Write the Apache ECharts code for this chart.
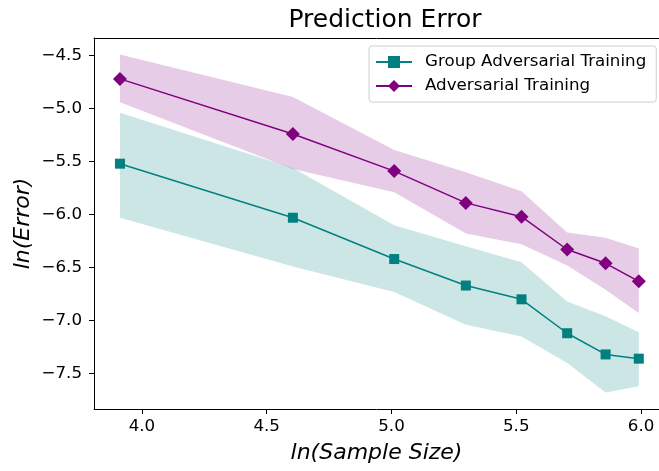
<!DOCTYPE html>
<html>
<head>
<meta charset="utf-8">
<script src="https://cdn.jsdelivr.net/npm/echarts@6/dist/echarts.min.js"></script>
<style>
html,body{margin:0;padding:0;background:#fff;}
#chart{width:659px;height:471px;}
</style>
</head>
<body>
<div id="chart"></div>
<script>
// ln(sample size) positions
var xVals = [3.912, 4.605, 5.011, 5.298, 5.521, 5.704, 5.858, 5.991];
// Group Adversarial Training
var gatMean  = [-5.52, -6.03, -6.42, -6.67, -6.80, -7.12, -7.32, -7.36];
var gatUpper = [-5.04, -5.56, -6.10, -6.30, -6.45, -6.82, -6.96, -7.11];
var gatLower = [-6.03, -6.49, -6.73, -7.04, -7.15, -7.40, -7.68, -7.62];
// Adversarial Training
var atMean  = [-4.72, -5.24, -5.59, -5.89, -6.02, -6.33, -6.46, -6.63];
var atUpper = [-4.49, -4.89, -5.39, -5.60, -5.78, -6.17, -6.22, -6.32];
var atLower = [-4.94, -5.57, -5.79, -6.18, -6.28, -6.48, -6.71, -6.93];
// tick labels
var xTicks = [4.0, 4.5, 5.0, 5.5, 6.0];
var yTicks = [-7.5, -7.0, -6.5, -6.0, -5.5, -5.0, -4.5];

var FONT = 'DejaVu Sans';
var fmt = function (v) { return (v < 0 ? '\u2212' : '') + Math.abs(v).toFixed(1); };

function pairs(xs, ys) { return xs.map(function (x, i) { return [x, ys[i]]; }); }

function bandSeries(upper, lower, color) {
  return {
    type: 'custom',
    silent: true,
    z: 1,
    data: [0],
    renderItem: function (params, api) {
      var pts = [];
      for (var i = 0; i < xVals.length; i++) pts.push(api.coord([xVals[i], upper[i]]));
      for (var j = xVals.length - 1; j >= 0; j--) pts.push(api.coord([xVals[j], lower[j]]));
      return { type: 'polygon', shape: { points: pts }, style: { fill: color } };
    }
  };
}

var XMIN = 3.808, XMAX = 6.072;

var chart = echarts.init(document.getElementById('chart'), null, { renderer: 'canvas' });
chart.setOption({
  animation: false,
  backgroundColor: '#fff',
  title: {
    text: 'Prediction Error',
    left: 380, top: 3, textAlign: 'center',
    textStyle: { fontFamily: FONT, fontSize: 25, fontWeight: 'normal', color: '#000' }
  },
  grid: {
    left: 94, top: 38, right: 0, bottom: 62, show: false
  },
  legend: {
    data: ['Group Adversarial Training', 'Adversarial Training'],
    orient: 'vertical',
    left: 369, top: 46,
    padding: [7, 10, 7, 6],
    itemWidth: 36, itemHeight: 15, itemGap: 6,
    borderColor: '#d0d0d0', borderWidth: 1, borderRadius: 3,
    backgroundColor: 'rgba(255,255,255,0.8)',
    textStyle: { fontFamily: FONT, fontSize: 16.7, color: '#000', lineHeight: 18, padding: [0, 0, 0, 8] }
  },
  xAxis: [{
    type: 'value', min: XMIN, max: XMAX,
    name: 'ln(Sample Size)', nameLocation: 'middle', nameGap: 33, nameMoveOverlap: false,
    nameTextStyle: { fontFamily: FONT, fontSize: 22, fontStyle: 'italic', color: '#000' },
    axisLine: { lineStyle: { color: '#000', width: 1 } },
    axisTick: { show: true, length: 5, customValues: xTicks, lineStyle: { color: '#000' } },
    axisLabel: { customValues: xTicks, formatter: fmt, margin: 9, fontFamily: FONT, fontSize: 16.7, color: '#000' },
    splitLine: { show: false }
  }, {
    type: 'value', min: XMIN, max: XMAX, position: 'top',
    axisLine: { show: true, lineStyle: { color: '#000', width: 1 } },
    axisTick: { show: false }, axisLabel: { show: false }, splitLine: { show: false }
  }],
  yAxis: {
    type: 'value', min: -7.835, max: -4.334,
    name: 'ln(Error)', nameLocation: 'middle', nameGap: 60, nameMoveOverlap: false,
    nameTextStyle: { fontFamily: FONT, fontSize: 22, fontStyle: 'italic', color: '#000' },
    axisLine: { show: true, lineStyle: { color: '#000', width: 1 } },
    axisTick: { show: true, length: 5, customValues: yTicks, lineStyle: { color: '#000' } },
    axisLabel: { customValues: yTicks, formatter: fmt, margin: 12, fontFamily: FONT, fontSize: 16.7, color: '#000' },
    splitLine: { show: false }
  },
  series: [
    bandSeries(gatUpper, gatLower, 'rgba(0,128,128,0.2)'),
    bandSeries(atUpper, atLower, 'rgba(128,0,128,0.2)'),
    {
      name: 'Group Adversarial Training', type: 'line', z: 3,
      data: pairs(xVals, gatMean),
      symbol: 'rect', symbolSize: 10, showAllSymbol: true,
      lineStyle: { color: '#008080', width: 1.5 },
      itemStyle: { color: '#008080' }
    },
    {
      name: 'Adversarial Training', type: 'line', z: 4,
      data: pairs(xVals, atMean),
      symbol: 'diamond', symbolSize: 14, showAllSymbol: true,
      lineStyle: { color: '#800080', width: 1.5 },
      itemStyle: { color: '#800080' }
    }
  ]
});
</script>
</body>
</html>
